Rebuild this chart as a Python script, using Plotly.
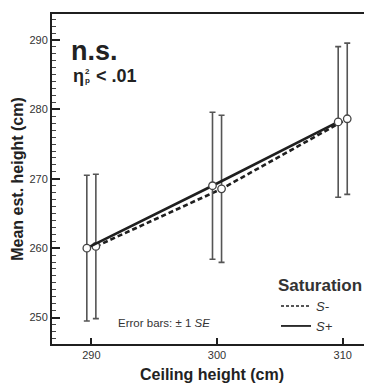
import plotly.graph_objects as go

# ---- data ----
ceiling_heights = [290, 300, 310]
x_tick_vals = [290, 300, 310]
y_tick_vals = [250, 260, 270, 280, 290]

s_minus_mean = [260.25, 268.55, 278.65]
s_minus_se = [10.4, 10.6, 10.9]
s_plus_mean = [260.0, 269.0, 278.2]
s_plus_se = [10.5, 10.6, 10.85]

series_names = ["<i>S-</i>", "<i>S+</i>"]

# ---- styling ----
PAGE_OFF = 8          # default page body margin
W, H = 372 - PAGE_OFF, 385 - PAGE_OFF
ML, MR, MT, MB = 44, 0, 6, 41
FONT = "Liberation Sans, Arial, Helvetica, sans-serif"
DARK = "#1f1f1f"
DODGE = 0.36


def px(xp):
    """window pixel x -> paper coordinate"""
    return (xp - PAGE_OFF - ML) / (W - ML - MR)


def py(yp):
    """window pixel y -> paper coordinate"""
    return (H - MB - (yp - PAGE_OFF)) / (H - MT - MB)


fig = go.Figure()

common_marker = dict(size=7.5, color="white", line=dict(color="#444444", width=1.3))
err_style = dict(type="data", visible=True, color="#555555", thickness=1.6, width=3)
minus_line = dict(color=DARK, width=2.6, dash="5px,3px")
plus_line = dict(color=DARK, width=2.6)

fig.add_trace(go.Scatter(
    x=[c + DODGE for c in ceiling_heights], y=s_minus_mean,
    name=series_names[0], mode="lines+markers", showlegend=False,
    line=minus_line, marker=common_marker,
    error_y=dict(array=s_minus_se, **err_style),
))
fig.add_trace(go.Scatter(
    x=[c - DODGE for c in ceiling_heights], y=s_plus_mean,
    name=series_names[1], mode="lines+markers", showlegend=False,
    line=plus_line, marker=common_marker,
    error_y=dict(array=s_plus_se, **err_style),
))
# legend entries (line only, as in the reference key)
fig.add_trace(go.Scatter(x=[None], y=[None], mode="lines", name=series_names[0],
                         line=dict(color=DARK, width=1.6, dash="3px,2px")))
fig.add_trace(go.Scatter(x=[None], y=[None], mode="lines", name=series_names[1],
                         line=dict(color=DARK, width=1.8)))


def ann(text, x, y, size, color="#222222"):
    return dict(text=text, x=px(x), y=py(y), xanchor="left", yanchor="middle",
                xref="paper", yref="paper", showarrow=False,
                font=dict(size=size, color=color, family=FONT))


annotations = [
    ann("<b>n.s.</b>", 69, 50.6, 27),
    ann("<b>η</b>", 70.5, 76.3, 18),
    ann("<b>2</b>", 82.5, 71.7, 8),
    ann("<b>p</b>", 82.5, 80.8, 8),
    ann("<b>< .01</b>", 94, 76.3, 18),
    ann("Error bars: ± 1 <i>SE</i>", 116, 323, 11.5, "#333333"),
]

fig.update_layout(
    width=W, height=H,
    margin=dict(l=ML, r=MR, t=MT, b=MB),
    paper_bgcolor="white", plot_bgcolor="white",
    font=dict(family=FONT, color="#333333"),
    annotations=annotations,
    showlegend=True,
    legend=dict(
        title=dict(text="<b>Saturation</b>", font=dict(size=17, color="#333333")),
        font=dict(size=13, color="#333333"),
        x=px(276), y=py(269), xanchor="left", yanchor="top",
        bgcolor="rgba(0,0,0,0)", itemwidth=30, traceorder="normal",
        tracegroupgap=0,
    ),
    xaxis=dict(
        range=[286.87, 312.33], tickvals=x_tick_vals,
        ticks="inside", ticklen=6, tickwidth=1.5, tickcolor=DARK,
        showline=True, linewidth=2, linecolor=DARK, mirror=True,
        showgrid=False, zeroline=False, automargin=False,
        tickfont=dict(size=11, color="#333333"),
        title=dict(text="<b>Ceiling height (cm)</b>", font=dict(size=16, color="#222222"),
                   standoff=9),
    ),
    yaxis=dict(
        range=[246.19, 293.75], tickvals=y_tick_vals,
        ticks="inside", ticklen=8, tickwidth=1.5, tickcolor=DARK,
        minor=dict(dtick=1, ticks="inside", ticklen=4, tickwidth=1, tickcolor="#444444"),
        showline=True, linewidth=2, linecolor=DARK, mirror=False,
        showgrid=False, zeroline=False, automargin=False,
        tickfont=dict(size=11, color="#333333"),
        title=dict(text="<b>Mean est. height (cm)</b>", font=dict(size=16, color="#222222"),
                   standoff=2),
    ),
)

fig.write_html("out.html")
